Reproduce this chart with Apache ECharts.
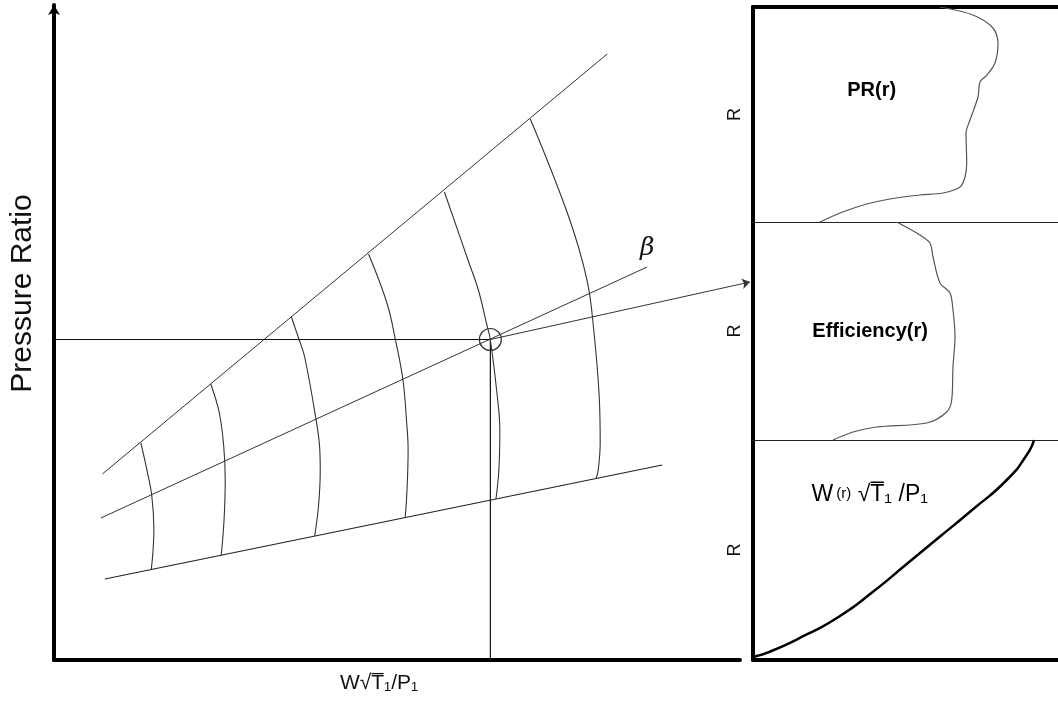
<!DOCTYPE html>
<html>
<head>
<meta charset="utf-8">
<script src="https://cdn.jsdelivr.net/npm/echarts@6/dist/echarts.min.js"></script>
<style>
html,body{margin:0;padding:0;background:#fff;}
#chart{width:1058px;height:709px;}
</style>
</head>
<body>
<div id="chart"></div>
<script>
// ---- Main compressor map (x: corrected flow, y: pressure ratio; 0..100 units) ----
const upperBound = [[7.06, 28.40], [80.64, 92.52]];
const betaLine   = [[6.84, 21.68], [86.46, 60.00]];
const lowerBound = [[7.42, 12.37], [88.65, 29.77]];
const opPointH   = [[0, 48.93], [63.61, 48.93]];
const opPointV   = [[63.61, 48.93], [63.61, 0]];
const opPoint    = [[63.61, 48.93]];
const arrowLine  = [[63.61, 48.93], [101.46, 57.71]];
const betaLabelPos = [[86.46, 62.9]];

const speed1 = [[12.66,33.13],[13.54,29.01],[14.26,25.04],[14.56,19.85],[14.41,16.34],[14.19,13.89]];
const speed2 = [[22.85,42.14],[24.10,37.71],[24.75,32.52],[24.96,27.48],[24.79,21.37],[24.38,16.03]];
const speed3 = [[34.60,52.37],[35.75,48.85],[36.54,46.26],[38.14,37.10],[38.72,32.52],[38.81,29.01],[38.57,23.66],[38.00,18.93]];
const speed4 = [[45.85,61.98],[48.53,54.50],[49.78,48.85],[50.87,42.75],[51.38,36.64],[51.62,32.06],[51.46,25.95],[51.18,21.68]];
const speed5 = [[56.91,71.45],[60.50,60.61],[61.86,56.49],[63.03,51.45],[63.61,48.85],[64.63,40.15],[64.99,35.11],[64.85,29.01],[64.42,24.58]];
const speed6 = [[69.43,82.60],[75.04,67.63],[77.69,58.02],[78.68,50.38],[79.48,40.15],[79.62,33.13],[79.33,29.01],[79.04,27.79]];
const speedLines = [speed1, speed2, speed3, speed4, speed5, speed6];

// ---- Right-hand radial profiles (x: value, y: R; 0..100 units) ----
const prProfile = [[61.31,100],[72.13,96.28],[78.69,90.23],[80.33,83.26],[79.34,73.95],[76.72,68.37],[74.43,65.12],[73.77,58.14],[71.15,47.44],[69.84,41.40],[70.07,27.44],[69.51,20.93],[67.87,16.28],[62.30,13.49],[54.75,12.56],[44.92,10.70],[37.28,8.37],[28.52,4.19],[21.97,0]];
const effProfile = [[47.11,100],[54.75,94.04],[58.03,90.37],[59.02,83.94],[61.31,72.02],[64.59,67.43],[65.57,59.63],[66.23,47.25],[65.57,33.49],[65.15,18.35],[63.51,12.84],[56.95,7.80],[40.56,5.96],[32.79,3.67],[26.23,0]];
const flowProfile = [[0,1.5],[4.49,3.2],[17.61,11.6],[28.52,20.0],[39.34,31.0],[50.39,43.6],[61.31,56.1],[72.13,68.5],[83.18,81.82],[89.74,93.18],[92.13,100]];

const panelLabelPos = [[38.9, 61.4], [38.4, 50.0], [38.3, 75.0]];

// ---- Text ----
const xAxisTitle = 'W\u221AT\u0305\u2081/P\u2081';
const yAxisTitle = 'Pressure Ratio';
const panelAxisTitle = 'R';
const betaText = '\u03B2';
const prText = 'PR(r)';
const effText = 'Efficiency(r)';

const sans = 'Liberation Sans, Arial, sans-serif';
const thin = {color: '#333', width: 1};
const solidItem = {color: '#000', opacity: 1};

function hiddenBits() {
  return {axisTick: {show: false}, axisLabel: {show: false}, splitLine: {show: false}};
}

const chart = echarts.init(document.getElementById('chart'), null, {renderer: 'canvas'});

const series = [];
function addLine(data, style, smooth) {
  series.push({
    type: 'line', xAxisIndex: 0, yAxisIndex: 0, data: data,
    showSymbol: false, symbol: 'none', smooth: smooth || false, silent: true,
    lineStyle: style || thin, z: 3
  });
}
addLine(upperBound);
addLine(betaLine);
addLine(lowerBound, {color: '#222', width: 1.2});
addLine(opPointH, {color: '#111', width: 1.2});
addLine(opPointV, {color: '#111', width: 1.2});
speedLines.forEach(s => addLine(s, {color: '#333', width: 1.1}, 0.4));

series.push({
  type: 'scatter', xAxisIndex: 0, yAxisIndex: 0, data: opPoint, silent: true,
  symbol: 'circle', symbolSize: 22,
  itemStyle: {color: 'rgba(0,0,0,0)', borderColor: '#333', borderWidth: 1.2, opacity: 1}, z: 4
});
series.push({
  type: 'lines', coordinateSystem: 'cartesian2d', xAxisIndex: 0, yAxisIndex: 0,
  clip: false, silent: true,
  symbol: ['none', 'arrow'], symbolSize: 8,
  lineStyle: {color: '#333', width: 1, opacity: 1, curveness: 0},
  itemStyle: {color: '#333'},
  data: [{coords: arrowLine}], z: 5
});
series.push({
  type: 'scatter', xAxisIndex: 0, yAxisIndex: 0, data: betaLabelPos, silent: true,
  symbolSize: 0, itemStyle: solidItem,
  label: {show: true, position: 'inside', formatter: betaText, fontSize: 25, textBorderWidth: 0,
          fontStyle: 'italic', fontFamily: 'DejaVu Serif, Liberation Serif, serif', color: '#111'}
});

// right panels
const profiles = [prProfile, effProfile, flowProfile];
const profileX = [1, 3, 4];
profiles.forEach((p, i) => {
  series.push({
    type: 'line', xAxisIndex: profileX[i], yAxisIndex: i + 1, data: p,
    showSymbol: false, symbol: 'none', smooth: i === 2 ? 0.6 : 0.3, silent: true,
    lineStyle: i === 2 ? {color: '#000', width: 2.5} : {color: '#555', width: 1.2}
  });
});
series.push({
  type: 'scatter', xAxisIndex: 1, yAxisIndex: 1, data: [panelLabelPos[0]], symbolSize: 0, silent: true,
  itemStyle: solidItem,
  label: {show: true, position: 'inside', formatter: prText, fontSize: 20, fontWeight: 'bold',
          fontFamily: sans, color: '#000', textBorderWidth: 0}
});
series.push({
  type: 'scatter', xAxisIndex: 3, yAxisIndex: 2, data: [panelLabelPos[1]], symbolSize: 0, silent: true,
  itemStyle: solidItem,
  label: {show: true, position: 'inside', formatter: effText, fontSize: 20, fontWeight: 'bold',
          fontFamily: sans, color: '#000', textBorderWidth: 0}
});
series.push({
  type: 'scatter', xAxisIndex: 4, yAxisIndex: 3, data: [panelLabelPos[2]], symbolSize: 0, silent: true,
  itemStyle: solidItem,
  label: {show: true, position: 'inside', textBorderWidth: 0, color: '#000',
          formatter: '{a|W}{b|(r)}{a| \u221AT\u0305\u2081 /P\u2081}',
          rich: {a: {fontSize: 23, fontFamily: sans, color: '#000', textBorderWidth: 0},
                 b: {fontSize: 15, fontFamily: sans, color: '#000', textBorderWidth: 0, padding: [0, 0, 3, 3]}}}
});

const thickLine = {color: '#000', width: 4};

chart.setOption({
  animation: false,
  backgroundColor: '#fff',
  grid: [
    {left: 53, top: 5, width: 687, height: 655},
    {left: 753, top: 7, right: 0, height: 215},
    {left: 753, top: 222, right: 0, height: 218},
    {left: 753, top: 440, right: 0, height: 220}
  ],
  xAxis: [
    Object.assign({gridIndex: 0, type: 'value', min: 0, max: 100,
      axisLine: {onZero: false, lineStyle: thickLine},
      name: xAxisTitle, nameLocation: 'middle', nameGap: 13,
      nameTextStyle: {fontSize: 21, color: '#111', fontFamily: sans, padding: [0, 36, 0, 0]}}, hiddenBits()),
    Object.assign({gridIndex: 1, type: 'value', min: 0, max: 100, position: 'top',
      axisLine: {onZero: false, lineStyle: thickLine}}, hiddenBits()),
    Object.assign({gridIndex: 1, type: 'value', min: 0, max: 100, position: 'bottom',
      axisLine: {onZero: false, lineStyle: {color: '#222', width: 1.2}}}, hiddenBits()),
    Object.assign({gridIndex: 2, type: 'value', min: 0, max: 100, position: 'bottom',
      axisLine: {onZero: false, lineStyle: {color: '#222', width: 1.2}}}, hiddenBits()),
    Object.assign({gridIndex: 3, type: 'value', min: 0, max: 100, position: 'bottom',
      axisLine: {onZero: false, lineStyle: thickLine}}, hiddenBits())
  ],
  yAxis: [
    Object.assign({gridIndex: 0, type: 'value', min: 0, max: 100,
      axisLine: {onZero: false, lineStyle: thickLine, symbol: ['none', 'arrow'], symbolSize: [9, 10]},
      name: yAxisTitle, nameLocation: 'middle', nameRotate: 90, nameGap: 16,
      nameTextStyle: {fontSize: 30, color: '#111', fontFamily: sans, padding: [0, 0, 0, 78]}}, hiddenBits()),
    Object.assign({gridIndex: 1, type: 'value', min: 0, max: 100,
      axisLine: {onZero: false, lineStyle: thickLine},
      name: panelAxisTitle, nameLocation: 'middle', nameRotate: 90, nameGap: 9,
      nameTextStyle: {fontSize: 18, color: '#111', fontFamily: sans}}, hiddenBits()),
    Object.assign({gridIndex: 2, type: 'value', min: 0, max: 100,
      axisLine: {onZero: false, lineStyle: thickLine},
      name: panelAxisTitle, nameLocation: 'middle', nameRotate: 90, nameGap: 9,
      nameTextStyle: {fontSize: 18, color: '#111', fontFamily: sans}}, hiddenBits()),
    Object.assign({gridIndex: 3, type: 'value', min: 0, max: 100,
      axisLine: {onZero: false, lineStyle: thickLine},
      name: panelAxisTitle, nameLocation: 'middle', nameRotate: 90, nameGap: 9,
      nameTextStyle: {fontSize: 18, color: '#111', fontFamily: sans}}, hiddenBits())
  ],
  series: series
});
</script>
</body>
</html>
